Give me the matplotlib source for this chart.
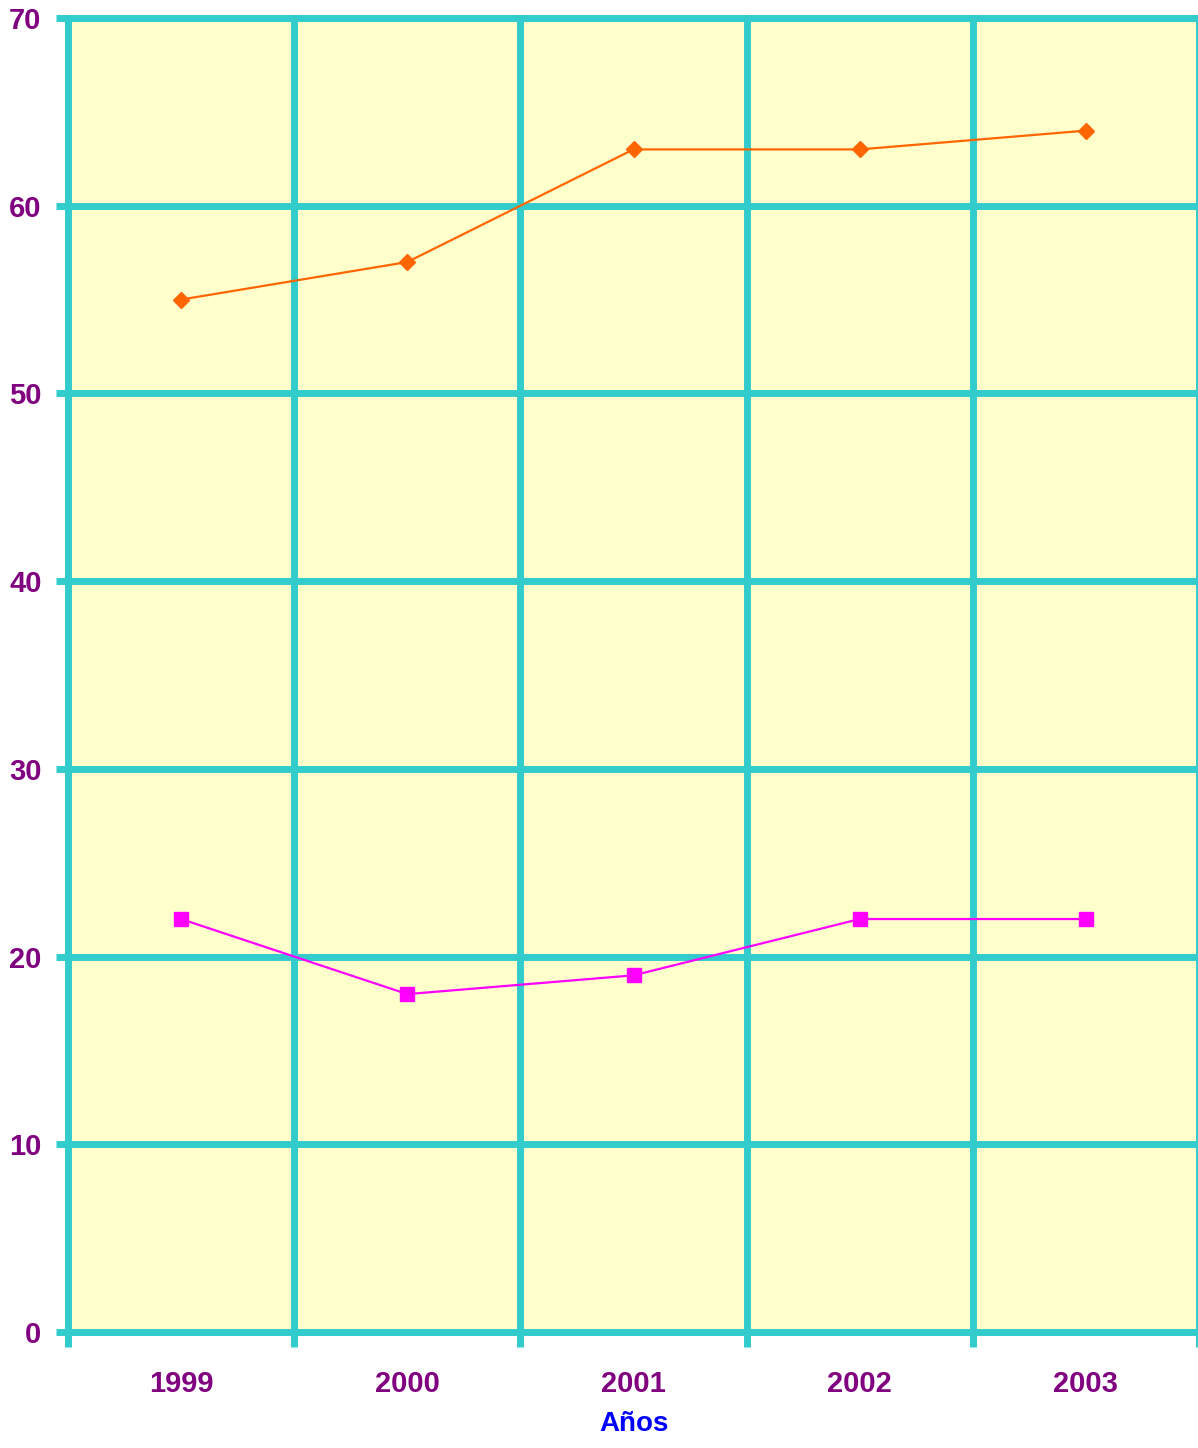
import matplotlib
matplotlib.use("Agg")
import matplotlib.pyplot as plt
import numpy as np

years = ["1999", "2000", "2001", "2002", "2003"]
serie_naranja = [55, 57, 63, 63, 64]
serie_magenta = [22, 18, 19, 22, 22]
y_ticks = [0, 10, 20, 30, 40, 50, 60, 70]

TEAL = "#33CCCC"
PURPLE = "#800080"

plt.rcParams["font.family"] = ["Liberation Sans", "DejaVu Sans"]

fig = plt.figure(figsize=(11.98, 14.48), dpi=100)
ax = fig.add_axes([68 / 1198, 1 - 1332 / 1448, 1131 / 1198, 1314 / 1448])
ax.set_facecolor("#FFFFCC")

x = np.arange(len(years))
ax.set_xlim(-0.5, len(years) - 0.5)
ax.set_ylim(0, 70)

# grid
for yv in y_ticks:
    ax.axhline(yv, color=TEAL, lw=5, zorder=1, clip_on=False, solid_capstyle="round")
for xv in np.arange(-0.5, len(years), 1.0):
    ax.axvline(xv, color=TEAL, lw=5, zorder=1, clip_on=False)

ax.plot(x, serie_naranja, color="#FF6600", lw=1.6, marker="D", ms=8, zorder=3)
ax.plot(x, serie_magenta, color="#FF00FF", lw=1.6, marker="s", ms=9.5, zorder=3)

for s in ax.spines.values():
    s.set_visible(False)

ax.set_yticks(y_ticks)
ax.set_yticklabels([str(v) for v in y_ticks], color=PURPLE, fontsize=21, fontweight="bold")
ax.tick_params(axis="y", length=9, width=5, color=TEAL, pad=10)

ax.set_xticks(np.arange(-0.5, len(years), 1.0))
ax.set_xticklabels([])
ax.tick_params(axis="x", which="major", length=11, width=5, color=TEAL)
ax.set_xticks(x, minor=True)
ax.set_xticklabels(years, minor=True, color=PURPLE, fontsize=21, fontweight="bold")
ax.tick_params(axis="x", which="minor", length=0, pad=27)

ax.set_xlabel("Años", color="#0000FF", fontsize=20, fontweight="bold", labelpad=10)

fig.savefig("out.png", dpi=100)
